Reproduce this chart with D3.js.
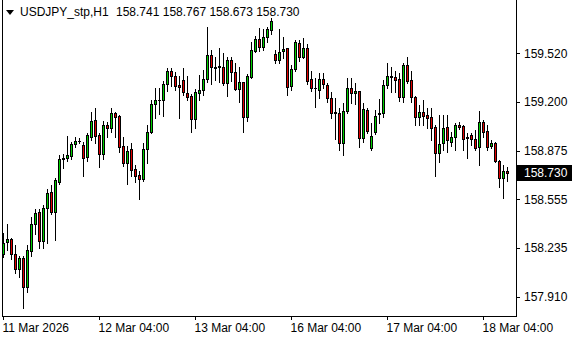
<!DOCTYPE html>
<html><head><meta charset="utf-8">
<script src="https://cdn.jsdelivr.net/npm/d3@7"></script>
<style>
html,body{margin:0;padding:0;background:#fff;}
svg{display:block;}
text{font-family:"Liberation Sans",Arial,sans-serif;font-size:12px;fill:#000;}
</style></head>
<body>
<svg id="chart" width="580" height="340"></svg>
<script>
const symbol = "USDJPY_stp,H1";
const open = [158.193,158.270,158.292,158.193,158.091,158.168,157.976,158.214,158.391,158.470,
158.281,158.495,158.603,158.472,158.671,158.819,158.826,158.843,158.918,158.940,
158.914,158.836,158.968,159.079,158.980,158.856,159.046,159.024,159.123,159.105,
158.907,158.792,158.885,158.753,158.713,158.687,158.887,158.998,159.183,159.209,
159.209,159.315,159.400,159.368,159.310,159.341,159.255,159.238,159.087,159.259,
159.274,159.353,159.509,159.431,159.427,159.427,159.326,159.476,159.394,159.284,
159.330,159.099,159.365,159.537,159.613,159.564,159.626,159.677,159.515,159.476,
159.535,159.553,159.304,159.414,159.586,159.498,159.553,159.348,159.289,159.274,
159.348,159.310,159.222,159.122,159.123,158.925,159.136,159.289,159.255,159.269,
158.963,159.145,158.892,159.001,159.117,159.122,159.308,159.370,159.361,159.348,
159.233,159.443,159.343,159.229,159.101,159.132,159.112,159.097,159.031,158.859,
158.925,159.031,158.935,158.964,159.044,159.039,158.964,158.980,158.955,158.902,
159.066,159.006,158.907,158.925,158.808,158.693,158.741];
const high = [158.330,158.391,158.300,158.252,158.181,158.181,158.252,158.435,158.490,158.488,
158.517,158.621,158.649,158.693,158.847,158.854,158.973,158.935,158.964,158.962,
158.935,158.991,159.134,159.158,158.995,159.074,159.068,159.158,159.134,159.112,
158.966,158.907,158.927,158.781,158.744,158.925,159.046,159.211,159.290,159.290,
159.340,159.423,159.426,159.396,159.370,159.421,159.370,159.248,159.284,159.376,
159.410,159.694,159.542,159.498,159.553,159.520,159.498,159.498,159.456,159.427,
159.333,159.381,159.595,159.636,159.689,159.684,159.696,159.751,159.542,159.684,
159.626,159.555,159.443,159.608,159.608,159.619,159.580,159.405,159.355,159.388,
159.392,159.322,159.264,159.222,159.156,159.189,159.355,159.355,159.322,159.271,
159.189,159.156,159.057,159.145,159.218,159.343,159.454,159.431,159.405,159.390,
159.459,159.498,159.405,159.238,159.178,159.211,159.156,159.156,159.046,159.112,
159.112,159.112,159.001,159.057,159.066,159.046,158.995,158.991,159.013,159.138,
159.079,159.046,158.947,158.933,158.814,158.781,158.767];
const low = [158.171,158.219,158.160,158.065,158.042,157.837,157.943,158.181,158.325,158.234,
158.234,158.267,158.457,158.285,158.656,158.759,158.810,158.819,158.898,158.925,
158.710,158.808,158.947,158.925,158.770,158.821,158.964,159.001,158.968,158.869,
158.775,158.654,158.707,158.671,158.553,158.675,158.792,158.991,159.094,159.117,
159.102,159.271,159.306,159.277,159.089,159.241,159.211,159.001,159.029,159.211,
159.244,159.330,159.317,159.341,159.332,159.310,159.240,159.337,159.277,159.196,
158.999,159.072,159.355,159.529,159.537,159.542,159.593,159.646,159.456,159.459,
159.491,159.241,159.277,159.400,159.471,159.487,159.315,159.271,159.167,159.222,
159.289,159.196,159.090,158.950,158.880,158.844,159.125,159.189,159.183,158.897,
158.935,158.991,158.880,158.986,159.061,159.099,159.289,159.266,159.266,159.205,
159.200,159.324,159.200,159.046,159.046,159.046,159.026,158.947,158.708,158.803,
158.880,158.867,158.907,158.880,159.019,158.880,158.826,158.914,158.880,158.781,
158.966,158.880,158.894,158.801,158.638,158.561,158.673];
const close = [158.263,158.290,158.193,158.091,158.164,157.976,158.219,158.391,158.462,158.281,
158.495,158.594,158.472,158.682,158.819,158.826,158.847,158.920,158.940,158.943,
158.826,158.980,159.072,158.975,158.856,159.046,159.024,159.123,159.101,158.898,
158.796,158.874,158.746,158.710,158.687,158.885,158.998,159.185,159.209,159.210,
159.315,159.400,159.372,159.304,159.300,159.261,159.234,159.083,159.262,159.275,
159.348,159.509,159.427,159.421,159.436,159.326,159.476,159.394,159.286,159.328,
159.097,159.367,159.539,159.613,159.564,159.626,159.679,159.732,159.476,159.527,
159.548,159.299,159.414,159.593,159.498,159.553,159.340,159.289,159.291,159.348,
159.315,159.222,159.122,159.132,158.925,159.136,159.289,159.255,159.269,158.963,
159.150,159.009,158.973,159.105,159.123,159.310,159.368,159.361,159.345,159.233,
159.443,159.340,159.233,159.101,159.132,159.107,159.094,159.028,158.859,158.918,
159.024,158.947,158.964,159.044,159.035,158.951,158.962,158.951,158.896,159.066,
159.001,158.902,158.925,158.808,158.697,158.742,158.730];
const priceTicks = [159.520, 159.200, 158.875, 158.555, 158.235, 157.910];
const dateTickBars = [0, 24, 48, 72, 96, 120];
const dateTickLabels = ["11 Mar 2026", "12 Mar 04:00", "13 Mar 04:00", "16 Mar 04:00", "17 Mar 04:00", "18 Mar 04:00"];

const svg = d3.select("#chart");
const W = 580, H = 340;
const plotLeft = 2, plotRight = 516, plotBottom = 316;
const bullFill = "#00d000", bearFill = "#e00000";
const FONT = "Liberation Sans, Arial, sans-serif";

const x = d3.scaleLinear().domain([0, open.length - 1]).range([3, 507]);
const y = d3.scaleLinear().domain([157.910, 159.520]).range([296.7, 53.3]);

svg.append("rect").attr("width", W).attr("height", H).attr("fill", "#fff");

const data = open.map((o, i) => ({i, o, h: high[i], l: low[i], c: close[i]}));
const g = svg.append("g").attr("shape-rendering", "crispEdges");

// wicks
g.selectAll("rect.wick").data(data).join("rect").attr("class", "wick")
  .attr("x", d => Math.round(x(d.i)))
  .attr("width", 1)
  .attr("y", d => Math.round(y(d.h)))
  .attr("height", d => Math.round(y(d.l)) - Math.round(y(d.h)) + 1)
  .attr("fill", "#000");

// bodies (outline)
const bTop = d => Math.round(y(Math.max(d.o, d.c)));
const bBot = d => Math.round(y(Math.min(d.o, d.c)));
g.selectAll("rect.body").data(data).join("rect").attr("class", "body")
  .attr("x", d => Math.round(x(d.i)) - 1)
  .attr("width", 3)
  .attr("y", bTop)
  .attr("height", d => bBot(d) - bTop(d) + 1)
  .attr("fill", "#000");
// body fill
g.selectAll("rect.fill").data(data.filter(d => bBot(d) - bTop(d) >= 2)).join("rect").attr("class", "fill")
  .attr("x", d => Math.round(x(d.i)))
  .attr("width", 1)
  .attr("y", d => bTop(d) + 1)
  .attr("height", d => bBot(d) - bTop(d) - 1)
  .attr("fill", d => d.c >= d.o ? bullFill : bearFill);

// frame
const frame = svg.append("g").attr("shape-rendering", "crispEdges");
frame.append("rect").attr("x", plotLeft).attr("y", 0).attr("width", 1).attr("height", plotBottom + 1).attr("fill", "#000");
frame.append("rect").attr("x", plotRight).attr("y", 0).attr("width", 1).attr("height", plotBottom + 1).attr("fill", "#000");
frame.append("rect").attr("x", plotLeft).attr("y", plotBottom).attr("width", plotRight - plotLeft + 1).attr("height", 1).attr("fill", "#000");

// price axis
const yAxis = d3.axisRight(y).tickValues(priceTicks).tickFormat(d3.format(".3f")).tickSize(4).tickPadding(4);
const ya = svg.append("g").attr("transform", `translate(${plotRight},0)`).call(yAxis);
ya.select(".domain").remove();
ya.selectAll("text").attr("font-family", FONT).attr("font-size", 11.6).attr("fill", "#000");
ya.selectAll("line").attr("stroke", "#000").attr("shape-rendering", "crispEdges");

// date axis
const xAxis = d3.axisBottom(x).tickValues(dateTickBars).tickFormat((d, k) => dateTickLabels[k]).tickSize(4).tickPadding(3);
const xa = svg.append("g").attr("transform", `translate(0,${plotBottom})`).call(xAxis);
xa.select(".domain").remove();
xa.selectAll("text").attr("text-anchor", "start").attr("dx", "-1").attr("font-family", FONT).attr("font-size", 12).attr("fill", "#000");
xa.selectAll("line").attr("stroke", "#000").attr("shape-rendering", "crispEdges");

// current price box
const last = close[close.length - 1];
const ly = y(last);
svg.append("rect").attr("x", plotRight + 1).attr("y", Math.round(ly) - 8).attr("width", 55).attr("height", 16).attr("fill", "#000");
svg.append("text").attr("x", plotRight + 8).attr("y", ly).attr("dy", "0.35em").attr("font-size", 11.6).style("fill", "#fff")
  .text(d3.format(".3f")(last));

// header
const f3 = d3.format(".3f");
svg.append("path").attr("d", "M6,10 L14,10 L10,15 Z").attr("fill", "#000");
svg.append("text").attr("x", 20).attr("y", 16).attr("font-size", 12).text(symbol);
svg.append("text").attr("x", 116).attr("y", 16).attr("font-size", 11.5)
  .text(`${f3(open[open.length-1])} ${f3(high[high.length-1])} ${f3(low[low.length-1])} ${f3(last)}`);
</script>
</body></html>
